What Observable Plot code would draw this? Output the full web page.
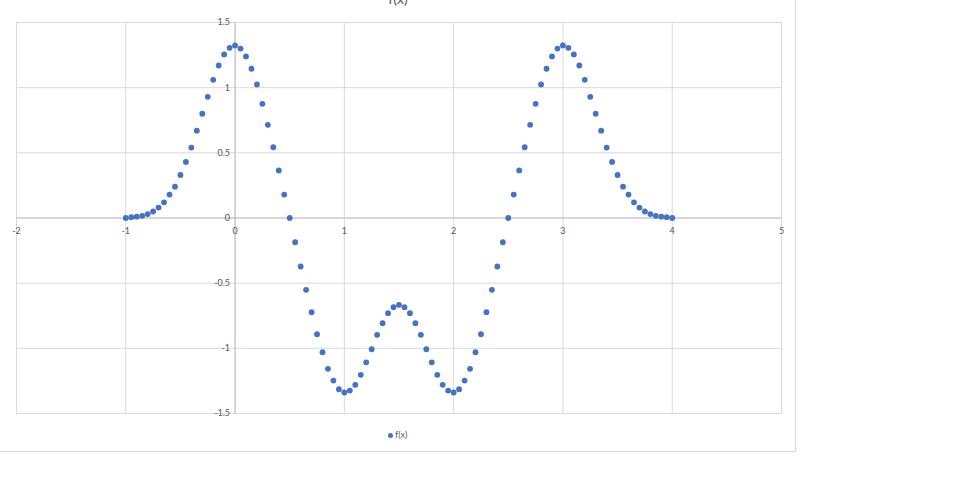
<!DOCTYPE html>
<html>
<head>
<meta charset="utf-8">
<script src="https://cdn.jsdelivr.net/npm/d3@7"></script>
<script src="https://cdn.jsdelivr.net/npm/@observablehq/plot@0.6"></script>
<style>
  html, body { margin: 0; padding: 0; background: #fff; }
  #wrap { position: relative; width: 960px; height: 503px; overflow: hidden; font-family: Lato, "Open Sans", sans-serif; }
  #border { position: absolute; left: -1px; top: -20px; width: 797px; height: 472px; border: 1px solid #d9d9d9; box-sizing: border-box; }
  #title { position: absolute; left: 0; width: 796px; top: -8px; text-align: center; font-size: 14px; color: #595959; line-height: 14px; }
  #legend { position: absolute; left: 388px; top: 429px; font-size: 9px; color: #595959; line-height: 12px; display: flex; align-items: center; }
  #legend span.m { display: inline-block; width: 5px; height: 5px; border-radius: 50%; background: #4472C4; margin-right: 2px; }
  svg { position: absolute; left: 0; top: 0; }
</style>
</head>
<body>
<div id="wrap">
  <div id="border"></div>
  <div id="title">f(x)</div>
  <div id="legend"><span class="m"></span><span>f(x)</span></div>
</div>
<script>
const seriesName = "f(x)";
const xValues = [
  -1, -0.95, -0.9, -0.85, -0.8, -0.75, -0.7, -0.65, -0.6, -0.55,
  -0.5, -0.45, -0.4, -0.35, -0.3, -0.25, -0.2, -0.15, -0.1, -0.05,
  0, 0.05, 0.1, 0.15, 0.2, 0.25, 0.3, 0.35, 0.4, 0.45,
  0.5, 0.55, 0.6, 0.65, 0.7, 0.75, 0.8, 0.85, 0.9, 0.95,
  1, 1.05, 1.1, 1.15, 1.2, 1.25, 1.3, 1.35, 1.4, 1.45,
  1.5, 1.55, 1.6, 1.65, 1.7, 1.75, 1.8, 1.85, 1.9, 1.95,
  2, 2.05, 2.1, 2.15, 2.2, 2.25, 2.3, 2.35, 2.4, 2.45,
  2.5, 2.55, 2.6, 2.65, 2.7, 2.75, 2.8, 2.85, 2.9, 2.95,
  3, 3.05, 3.1, 3.15, 3.2, 3.25, 3.3, 3.35, 3.4, 3.45,
  3.5, 3.55, 3.6, 3.65, 3.7, 3.75, 3.8, 3.85, 3.9, 3.95,
  4
];
const yValues = [
  0, 0.006, 0.01, 0.017, 0.03, 0.05, 0.08, 0.12, 0.18, 0.24,
  0.33, 0.43, 0.54, 0.67, 0.80, 0.93, 1.06, 1.17, 1.255, 1.306,
  1.324, 1.30, 1.24, 1.145, 1.025, 0.876, 0.715, 0.543, 0.365, 0.18,
  0, -0.186, -0.372, -0.551, -0.723, -0.892, -1.03, -1.157, -1.247, -1.314,
  -1.339, -1.324, -1.28, -1.203, -1.107, -1.007, -0.896, -0.807, -0.73, -0.684,
  -0.666, -0.684, -0.73, -0.807, -0.896, -1.007, -1.107, -1.203, -1.28, -1.324,
  -1.339, -1.314, -1.247, -1.157, -1.03, -0.892, -0.723, -0.551, -0.372, -0.186,
  0, 0.18, 0.365, 0.543, 0.715, 0.876, 1.025, 1.145, 1.24, 1.30,
  1.324, 1.306, 1.255, 1.17, 1.06, 0.93, 0.80, 0.67, 0.54, 0.43,
  0.33, 0.24, 0.18, 0.12, 0.08, 0.05, 0.03, 0.017, 0.01, 0.006,
  0
];
const xTicks = [-2, -1, 0, 1, 2, 3, 4, 5];
const xTickLabels = ["-2", "-1", "0", "1", "2", "3", "4", "5"];
const yTicks = [-1.5, -1, -0.5, 0, 0.5, 1, 1.5];
const yTickLabels = ["-1.5", "-1", "-0.5", "0", "0.5", "1", "1.5"];

const data = xValues.map((x, i) => ({x, y: yValues[i], series: seriesName}));
const xt = xTicks.map((v, i) => ({v, label: xTickLabels[i]}));
const yt = yTicks.map((v, i) => ({v, label: yTickLabels[i]}));

const chart = Plot.plot({
  width: 960,
  height: 503,
  marginLeft: 16,
  marginRight: 179,
  marginTop: 22,
  marginBottom: 90,
  style: {background: "transparent", fontFamily: "Lato, 'Open Sans', sans-serif", fontSize: "9px", overflow: "visible"},
  x: {domain: [-2, 5], axis: null},
  y: {domain: [-1.5, 1.5], axis: null},
  marks: [
    Plot.gridX(xTicks, {stroke: "#d9d9d9", strokeOpacity: 1}),
    Plot.gridY(yTicks, {stroke: "#d9d9d9", strokeOpacity: 1}),
    Plot.frame({stroke: "#d9d9d9"}),
    Plot.ruleY([0], {stroke: "#bfbfbf"}),
    Plot.ruleX([0], {stroke: "#bfbfbf"}),
    Plot.text(xt, {x: "v", y: () => 0, text: "label", dy: 13, fill: "#595959"}),
    Plot.text(yt, {x: () => 0, y: "v", text: "label", textAnchor: "end", dx: -5, fill: "#595959"}),
    Plot.dot(data, {x: "x", y: "y", r: 2.9, fill: "#4472C4", stroke: "none"})
  ]
});
document.getElementById("wrap").insertBefore(chart, document.getElementById("title"));
</script>
</body>
</html>
